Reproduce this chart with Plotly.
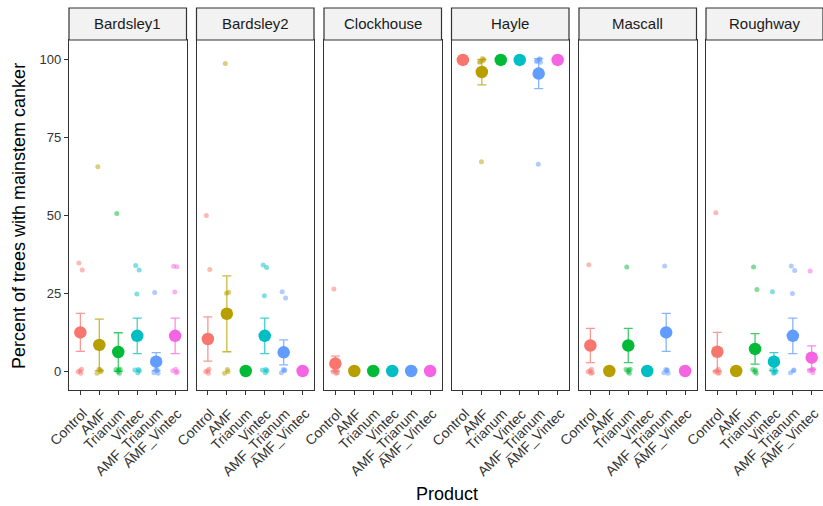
import plotly.graph_objects as go

W, H = 823, 506

sites = ["Bardsley1", "Bardsley2", "Clockhouse", "Hayle", "Mascall", "Roughway"]
products = ["Control", "AMF", "Trianum", "Vintec", "AMF_Trianum", "AMF_Vintec"]
colors = ["#F8766D", "#B79F00", "#00BA38", "#00BFC4", "#619CFF", "#F564E3"]

# mean percent per site (product order as above)
mean_Bardsley1 = [12.4, 8.4, 6.1, 11.3, 3.0, 11.3]
mean_Bardsley2 = [10.3, 18.4, 0.0, 11.3, 6.0, 0.0]
mean_Clockhouse = [2.4, 0.0, 0.0, 0.0, 0.0, 0.0]
mean_Hayle = [100.0, 96.1, 100.0, 100.0, 95.6, 100.0]
mean_Mascall = [8.2, 0.0, 8.2, 0.0, 12.4, 0.0]
mean_Roughway = [6.2, 0.0, 7.1, 3.0, 11.3, 4.3]

# standard errors
se_Bardsley1 = [6.1, 8.3, 6.2, 5.7, 2.9, 5.7]
se_Bardsley2 = [7.1, 12.2, 0.0, 5.7, 4.0, 0.0]
se_Clockhouse = [2.4, 0.0, 0.0, 0.0, 0.0, 0.0]
se_Hayle = [0.0, 4.1, 0.0, 0.0, 4.8, 0.0]
se_Mascall = [5.5, 0.0, 5.5, 0.0, 6.1, 0.0]
se_Roughway = [6.2, 0.0, 4.9, 2.9, 5.7, 3.8]

# raw observations per product
raw_Bardsley1 = [[34.4, 33.0, 0, 0, 0, 0], [66.2, 0, 0, 0, 0, 0], [50.5, 0, 0, 0, 0, 0],
                 [33.3, 32.7, 25.5, 0, 0, 0, 0], [25.5, 0, 0, 0, 0, 0], [34.4, 33.0, 25.0, 0, 0, 0, 0]]
raw_Bardsley2 = [[49.6, 33.2, 0, 0, 0, 0], [99.4, 25.2, 24.4, 0, 0, 0], [0, 0, 0, 0, 0, 0],
                 [33.5, 33.5, 24.9, 0, 0, 0, 0], [25.7, 24.2, 0, 0, 0, 0], [0, 0, 0, 0, 0, 0]]
raw_Clockhouse = [[26.0, 0, 0, 0, 0, 0], [0, 0, 0, 0, 0, 0], [0, 0, 0, 0, 0, 0],
                  [0, 0, 0, 0, 0, 0], [0, 0, 0, 0, 0, 0], [0, 0, 0, 0, 0, 0]]
raw_Hayle = [[100, 100, 100, 100, 100, 100], [100, 100, 66.7, 100, 100, 100], [100, 100, 100, 100, 100, 100],
             [100, 100, 100, 100, 100, 100], [100, 100, 66.0, 100, 100, 100], [100, 100, 100, 100, 100, 100]]
raw_Mascall = [[33.8, 0, 0, 0, 0, 0], [0, 0, 0, 0, 0, 0], [33.3, 0, 0, 0, 0, 0],
               [0, 0, 0, 0, 0, 0], [34.0, 0, 0, 0, 0, 0], [0, 0, 0, 0, 0, 0]]
raw_Roughway = [[50.5, 0, 0, 0, 0, 0], [0, 0, 0, 0, 0, 0], [33.3, 25.6, 0, 0, 0, 0],
                [24.9, 0, 0, 0, 0, 0], [34.0, 33.0, 24.4, 0, 0, 0], [32.9, 0, 0, 0, 0, 0]]

means = [mean_Bardsley1, mean_Bardsley2, mean_Clockhouse, mean_Hayle, mean_Mascall, mean_Roughway]
ses = [se_Bardsley1, se_Bardsley2, se_Clockhouse, se_Hayle, se_Mascall, se_Roughway]
raws = [raw_Bardsley1, raw_Bardsley2, raw_Clockhouse, raw_Hayle, raw_Mascall, raw_Roughway]

y_ticks = [0, 25, 50, 75, 100]

# jitter pattern (position offsets, styling only)
JX = [-0.08, 0.10, -0.02, 0.06, -0.12, 0.03, 0.12]
JY = [0.6, -0.9, 0.2, 1.0, -0.4, -1.2, 0.8]

FONT = "Liberation Sans, Arial"


def rgba(hexc, a):
    h = hexc.lstrip('#')
    r, g, b = int(h[0:2], 16), int(h[2:4], 16), int(h[4:6], 16)
    return f"rgba({r},{g},{b},{a})"


# panel layout in pixels
panel_left = [69, 196.5, 324, 451.5, 579, 706]
panel_w = 117.5
top_px, bot_px = 40, 390
strip_top = 8
label_top = 404

fig = go.Figure()
layout = {}
shapes = []
annotations = []

for i, site in enumerate(sites):
    ax = "" if i == 0 else str(i + 1)
    xa, ya = "x" + ax, "y" + ax
    for j, prod in enumerate(products):
        vals = raws[i][j]
        xs = [j + 1 + JX[k % len(JX)] for k in range(len(vals))]
        ys = [v + JY[(k + j) % len(JY)] * 0.6 for k, v in enumerate(vals)]
        fig.add_trace(go.Scatter(
            x=xs, y=ys, mode="markers", xaxis=xa, yaxis=ya, showlegend=False,
            marker=dict(color=colors[j], size=5, opacity=0.5, line=dict(width=0)),
            hoverinfo="skip"))
    for j, prod in enumerate(products):
        fig.add_trace(go.Scatter(
            x=[j + 1], y=[means[i][j]], mode="markers", xaxis=xa, yaxis=ya, showlegend=False,
            marker=dict(color=colors[j], size=12.5, line=dict(width=0)),
            error_y=dict(type="data", array=[ses[i][j]], visible=ses[i][j] > 0,
                         color=rgba(colors[j], 0.75), thickness=1.3, width=4.5),
            name=prod))
        # rotated category label (ggplot-style angle=45, hjust=1)
        annotations.append(dict(text=prod, xref=xa, yref="paper", x=j + 1, xshift=11,
                                y=(H - label_top) / H, textangle=-45, showarrow=False,
                                xanchor="right", yanchor="top", borderpad=0,
                                font=dict(family=FONT, size=14, color="#333333")))

    x0 = panel_left[i] / W
    x1 = min((panel_left[i] + panel_w) / W, 1.0)
    y0 = (H - bot_px) / H
    y1 = (H - top_px) / H
    layout["xaxis" + ax] = dict(
        domain=[x0, x1], anchor=ya, range=[0.4, 6.6],
        tickmode="array", tickvals=[1, 2, 3, 4, 5, 6], showticklabels=False,
        ticks="outside", ticklen=4, tickcolor="#333333", tickwidth=1,
        showline=True, mirror=True, linecolor="#333333", linewidth=1.2,
        showgrid=False, zeroline=False, automargin=False)
    layout["yaxis" + ax] = dict(
        domain=[y0, y1], anchor=xa, range=[-6.1, 106.4],
        tickmode="array", tickvals=y_ticks,
        ticks="outside" if i == 0 else "", ticklen=4, tickcolor="#333333",
        showticklabels=(i == 0),
        tickfont=dict(family=FONT, size=13, color="#333333"),
        showline=True, mirror=True, linecolor="#333333", linewidth=1.2,
        showgrid=False, zeroline=False, automargin=False)

    shapes.append(dict(type="rect", xref="paper", yref="paper",
                       x0=x0, x1=x1, y0=y1, y1=(H - strip_top) / H,
                       fillcolor="#F2F2F2", line=dict(color="#333333", width=1.2), layer="above"))
    annotations.append(dict(text=site, xref="paper", yref="paper",
                            x=(x0 + x1) / 2, y=(H - (strip_top + top_px) / 2) / H,
                            showarrow=False, xanchor="center", yanchor="middle",
                            font=dict(family=FONT, size=15, color="#1A1A1A")))

annotations.append(dict(text="Percent of trees with mainstem canker", xref="paper", yref="paper",
                        x=19 / W, y=(H - 216) / H, textangle=-90, showarrow=False,
                        xanchor="center", yanchor="middle",
                        font=dict(family=FONT, size=18, color="#000000")))
annotations.append(dict(text="Product", xref="paper", yref="paper",
                        x=447 / W, y=(H - 494) / H, showarrow=False,
                        xanchor="center", yanchor="middle",
                        font=dict(family=FONT, size=18, color="#000000")))

fig.update_layout(
    width=W, height=H, margin=dict(l=0, r=0, t=0, b=0),
    paper_bgcolor="white", plot_bgcolor="white",
    shapes=shapes, annotations=annotations, showlegend=False, **layout)

fig.write_html("out.html")
